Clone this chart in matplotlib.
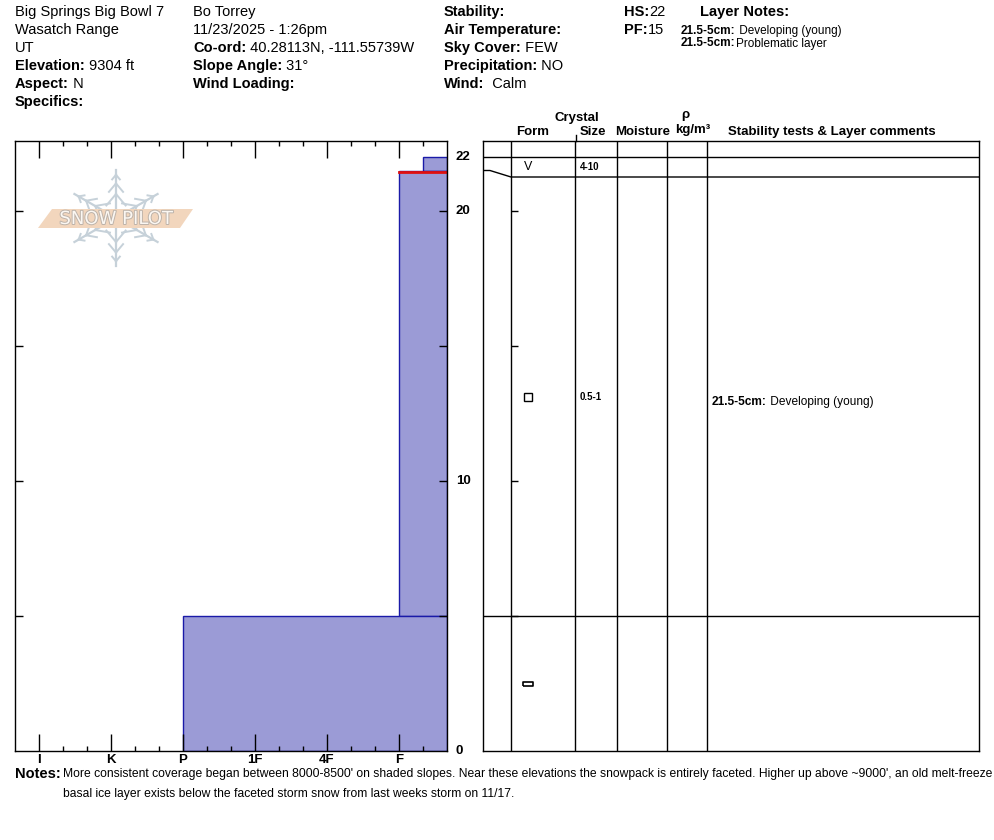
import numpy as np
import matplotlib
matplotlib.use("Agg")
import matplotlib.pyplot as plt
import matplotlib.transforms as mtransforms
import matplotlib.patheffects as pe
from matplotlib.patches import Polygon

plt.rcParams['font.family'] = ['Liberation Sans', 'DejaVu Sans']

# ---- data ----
layer_top = [22.0, 21.5, 5.0]
layer_bottom = [21.5, 5.0, 0.0]
layer_hardness = ['F-', 'F', 'P']
layer_form = ['SH', 'FC', 'MFcr']
layer_size = ['4-10', '0.5-1', '']
problem_layer = 21.5
hardness_labels = ['I', 'K', 'P', '1F', '4F', 'F']
depth_labels = [0, 10, 20, 22]
depth_ticks = [5, 10, 15, 20]
comments = [("21.5-5cm:", " Developing (young)", 12.93)]
layer_notes = [("21.5-5cm:", " Developing (young)"), ("21.5-5cm:", "Problematic layer")]
notes_text = ["More consistent coverage began between 8000-8500' on shaded slopes. Near these elevations the snowpack is entirely faceted. Higher up above ~9000', an old melt-freeze",
              "basal ice layer exists below the faceted storm snow from last weeks storm on 11/17."]

# hardness in thirds counted from the right edge
base = {'F': 2, '4F': 5, '1F': 8, 'P': 11, 'K': 14, 'I': 17}
def hpos(code):
    mod = 0
    if code.endswith('-'):
        mod, code = -1, code[:-1]
    elif code.endswith('+'):
        mod, code = 1, code[:-1]
    return base[code] + mod

W, H = 994, 840
fig = plt.figure(figsize=(W / 100, H / 100), dpi=100)

def frect(x0, y0, x1, y1):
    # pixel box (top-left origin) -> figure fraction rect
    return [x0 / W, 1 - y1 / H, (x1 - x0) / W, (y1 - y0) / H]

ymax = (751 - 141) / 27.0

# ---- hardness profile ----
ax = fig.add_axes(frect(15, 141, 447, 751))
ax.set_xlim(18, 0)
ax.set_ylim(0, ymax)
for top, bot, hd in zip(layer_top, layer_bottom, layer_hardness):
    ax.barh(bot, hpos(hd), height=top - bot, left=0, align='edge',
            color='#9b9bd6', edgecolor='#1a1aa8', linewidth=1, zorder=1)
i = layer_top.index(problem_layer)
ax.plot([0, hpos(layer_hardness[i])], [problem_layer - 0.06] * 2, color='#e01010', lw=2, zorder=1.5)

ax.set_xticks([base[h] for h in hardness_labels])
ax.set_xticklabels(hardness_labels, fontweight='bold', fontsize=9.5)
minor = [base[h] + d for h in hardness_labels for d in (-1, 1) if 0 < base[h] + d < 18]
ax.set_xticks(minor, minor=True)
ax.tick_params(axis='x', which='major', direction='in', length=12, width=1, top=True, pad=2)
ax.tick_params(axis='x', which='minor', direction='in', length=3.6, width=1, top=True)
ax.set_yticks(depth_ticks)
ax.set_yticklabels([])
ax.yaxis.set_ticks_position('both')
ax.tick_params(axis='y', direction='in', length=5.5, width=1)
for s in ax.spines.values():
    s.set_linewidth(1)

tr = mtransforms.blended_transform_factory(fig.transFigure, ax.transData)
for d in depth_labels:
    fig.text(456 / W, d, str(d), transform=tr, fontweight='bold', fontsize=9.5,
             va='center', ha='left')

# ---- layer table ----
tx = fig.add_axes(frect(483, 141, 979, 751))
tx.set_xlim(0, 496)
tx.set_ylim(0, ymax)
tx.set_xticks([])
tx.set_yticks([])
for s in tx.spines.values():
    s.set_linewidth(1)
cols = [28, 92, 134, 184, 224]
for c in cols:
    tx.axvline(c, color='black', lw=1)
tx.hlines(depth_ticks, 28, 35, color='black', lw=1)

# display boundaries with a minimum row height
min_h = 20 / 27.0
disp = []
prev = None
for t in layer_top:
    d = t if prev is None else min(t, prev - min_h)
    disp.append(d)
    prev = d
for t, d in zip(layer_top, disp):
    tx.plot([0, 7, 28, 496], [t, t, d, d], color='black', lw=1)
disp_bottom = disp[1:] + [0.0]

sym_x = 45
for form, size, d0, d1 in zip(layer_form, layer_size, disp, disp_bottom):
    yc = (d0 + d1) / 2
    if form == 'SH':
        tx.text(sym_x, yc, 'V', fontsize=9, ha='center', va='center')
    elif form == 'FC':
        tx.plot(sym_x, yc, marker='s', ms=5.5, mfc='white', mec='black', mew=1)
    elif form == 'MFcr':
        tx.plot(sym_x, yc, marker=[(-1, -0.45), (1, -0.45), (1, 0.45), (-1, 0.45), (-1, -0.45)],
                ms=6.5, mfc='white', mec='black', mew=1.2)
    if size:
        tx.text(97, yc, size, fontsize=7, fontweight='bold', ha='left', va='center')

# ---- overlay for header, logo, notes ----
ov = fig.add_axes([0, 0, 1, 1])
ov.set_xlim(0, W)
ov.set_ylim(H, 0)
ov.axis('off')

def lv(x, y, label, value='', size=10.5, axx=None):
    axx = axx or ov
    t = axx.text(x, y, label, fontweight='bold', fontsize=size, va='center', ha='left')
    if value:
        axx.annotate(value, xy=(1, 0), xycoords=t, va='bottom', ha='left', fontsize=size)
    return t

def plain(x, y, s, size=10.5):
    ov.text(x, y, s, fontsize=size, va='center', ha='left')

rows = [12, 30, 48, 66, 84, 102]
plain(15, rows[0], "Big Springs Big Bowl 7")
plain(15, rows[1], "Wasatch Range")
plain(15, rows[2], "UT")
lv(15, rows[3], "Elevation:", " 9304 ft")
lv(15, rows[4], "Aspect:", " N")
lv(15, rows[5], "Specifics:")

plain(193, rows[0], "Bo Torrey")
plain(193, rows[1], "11/23/2025 - 1:26pm")
lv(193, rows[2], "Co-ord:", " 40.28113N, -111.55739W")
lv(193, rows[3], "Slope Angle:", " 31°")
lv(193, rows[4], "Wind Loading:")

lv(444, rows[0], "Stability:")
lv(444, rows[1], "Air Temperature:")
lv(444, rows[2], "Sky Cover:", " FEW")
lv(444, rows[3], "Precipitation:", " NO")
lv(444, rows[4], "Wind:", "  Calm")

lv(624, rows[0], "HS:", "22")
lv(624, rows[1], "PF:", "15")
lv(700, rows[0], "Layer Notes:")
for k, (a, b) in enumerate(layer_notes):
    lv(681, 31 + 12.5 * k, a, b, size=8.5)

# table header
hdr = dict(fontweight='bold', fontsize=9.5, va='center', ha='center')
ov.text(577, 118, "Crystal", **hdr)
ov.text(533, 132, "Form", **hdr)
ov.text(593, 132, "Size", **hdr)
ov.text(643, 132, "Moisture", **hdr)
ov.text(685, 115, "ρ", **hdr)
ov.text(693, 130, "kg/m³", **hdr)
ov.text(832, 132, "Stability tests & Layer comments", **hdr)
ov.plot([576, 576], [135, 141], color='black', lw=1)

# comments column
for a, b, d in comments:
    lv(229, d, a, b, size=8.6, axx=tx)

# notes
ov.text(15, 774, "Notes:", fontweight='bold', fontsize=10.5, va='center', ha='left')
for k, line in enumerate(notes_text):
    plain(63, 774 + 20 * k, line, size=8.75)

# snowpilot logo
cx, cy = 116, 218
flake = '#c6d1d9'
for ang in [90, 30, -30, -90, 150, 210]:
    a = np.radians(ang)
    L = 48
    ex, ey = cx + L * np.cos(a), cy - L * np.sin(a)
    ov.plot([cx, ex], [cy, ey], color=flake, lw=1.6, zorder=1)
    for f, bl in [(0.5, 15), (0.72, 11), (0.9, 6)]:
        px, py = cx + f * L * np.cos(a), cy - f * L * np.sin(a)
        for s in (-1, 1):
            b = a + np.pi + s * np.radians(40)
            ov.plot([px, px + bl * np.cos(b)], [py, py - bl * np.sin(b)],
                    color=flake, lw=1.4, zorder=1)
ov.add_patch(Polygon([(38, 228), (52, 209), (193, 209), (180, 228)], closed=True,
                     facecolor='#f2d6bd', edgecolor='none', zorder=2))
ov.text(cx, 219, "SNOW PILOT", fontsize=13, color='#fbf7f2', ha='center', va='center',
        family='DejaVu Sans', zorder=3,
        path_effects=[pe.withStroke(linewidth=1.4, foreground='#bdb3aa')])

fig.savefig("out.png", dpi=100)
